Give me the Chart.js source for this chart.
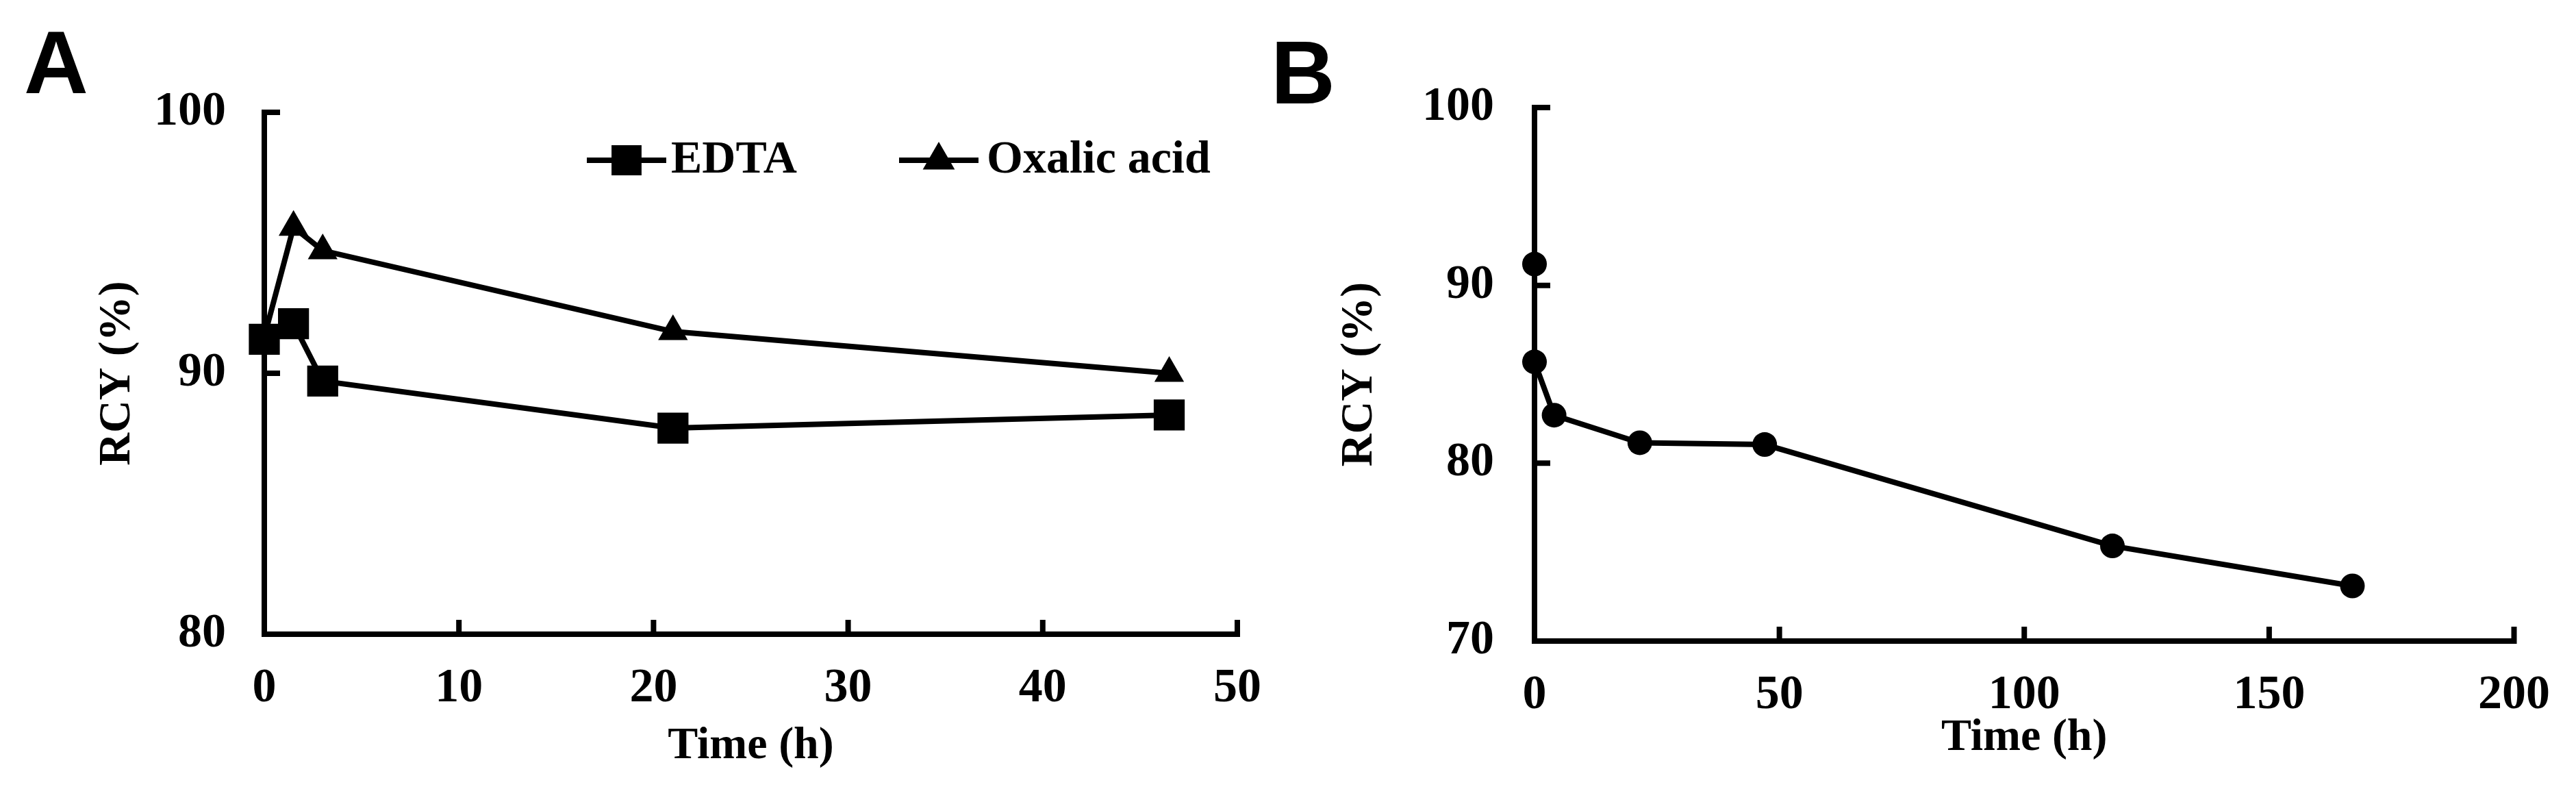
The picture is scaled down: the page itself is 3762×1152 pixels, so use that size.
<!DOCTYPE html>
<html>
<head>
<meta charset="utf-8">
<title>RCY over time</title>
<script src="https://cdn.jsdelivr.net/npm/chart.js@4.4.1/dist/chart.umd.min.js"></script>
<style>
  html, body { margin: 0; padding: 0; background: #fff; }
  body { width: 3762px; height: 1152px; position: relative; overflow: hidden; }
  canvas { position: absolute; top: 0; }
  #chartA { left: 0; }
  #chartB { left: 1880px; }
  .panel {
    position: absolute;
    font-family: Arial, "Liberation Sans", sans-serif;
    font-weight: bold;
    font-size: 130px;
    line-height: 130px;
    color: #000;
  }
</style>
</head>
<body>
<div class="panel" style="left:35px; top:26px;">A</div>
<div class="panel" style="left:1856px; top:41px;">B</div>
<canvas id="chartA" width="1880" height="1152"></canvas>
<canvas id="chartB" width="1882" height="1152"></canvas>
<script>
// Panel A - RCY (%) over time with the two additives
const timeA = [0, 1.5, 3, 21, 46.5];
const edtaRcy = [91.3, 91.9, 89.7, 87.9, 88.4];
const oxalicRcy = [91.4, 95.6, 94.7, 91.6, 90.0];
const xTicksA = [0, 10, 20, 30, 40, 50];
const yTicksA = [80, 90, 100];

// Panel B - RCY (%) over a longer time span
const timeB = [0, 0, 4, 21.5, 47, 118, 167];
const rcyB = [91.2, 85.7, 82.7, 81.15, 81.05, 75.35, 73.1];
const xTicksB = [0, 50, 100, 150, 200];
const yTicksB = [70, 80, 90, 100];

const serif = '"Times New Roman", "Liberation Serif", serif';
const tickFont = { family: serif, size: 70, weight: 'bold' };
const titleFont = { family: serif, size: 66, weight: 'bold' };

const toPoints = (xs, ys) => xs.map((x, i) => ({ x: x, y: ys[i] }));
const fixedTicks = list => scale => { scale.ticks = list.map(v => ({ value: v })); };

// short tick marks pointing into the plot, placed by the scales
const innerTicks = {
    id: 'innerTicks',
    beforeDatasetsDraw(chart) {
        const { ctx, chartArea: a, scales: { x, y } } = chart;
        ctx.save();
        ctx.strokeStyle = '#000';
        ctx.lineWidth = 8;
        ctx.beginPath();
        y.ticks.forEach(t => {
            const py = y.getPixelForValue(t.value);
            ctx.moveTo(a.left - 4, py);
            ctx.lineTo(a.left + 23, py);
        });
        x.ticks.forEach(t => {
            const px = x.getPixelForValue(t.value);
            ctx.moveTo(px, a.bottom + 4);
            ctx.lineTo(px, a.bottom - 21);
        });
        ctx.stroke();
        ctx.restore();
    }
};

// Excel-like legend inside the plot: line, marker on it, label after it
const lineLegend = {
    id: 'lineLegend',
    afterDatasetsDraw(chart, args, opts) {
        if (!opts.items) return;
        const { ctx, chartArea: a } = chart;
        const y = a.top + opts.dy;
        ctx.save();
        ctx.strokeStyle = '#000';
        ctx.fillStyle = '#000';
        ctx.font = 'bold ' + opts.fontSize + 'px ' + serif;
        ctx.textBaseline = 'middle';
        ctx.textAlign = 'left';
        opts.items.forEach((it, i) => {
            const ds = chart.data.datasets[i];
            const x0 = a.left + it.dx;
            ctx.lineWidth = 8;
            ctx.beginPath();
            ctx.moveTo(x0, y);
            ctx.lineTo(x0 + opts.lineLen, y);
            ctx.stroke();
            Chart.helpers.drawPoint(ctx, { pointStyle: ds.pointStyle, radius: it.radius, rotation: 0, borderWidth: 0 }, x0 + opts.lineLen / 2, y);
            ctx.fillText(ds.label, x0 + opts.lineLen + it.gap, y);
        });
        ctx.restore();
    }
};

function axes(xTicks, yTicks, o) {
    return {
        x: {
            type: 'linear',
            min: xTicks[0],
            max: xTicks[xTicks.length - 1],
            afterBuildTicks: fixedTicks(xTicks),
            afterFit: s => { s.height = o.xHeight; },
            grid: { display: false, drawTicks: false },
            border: { display: true, color: '#000', width: 8 },
            ticks: { font: tickFont, color: '#000', padding: o.xPad, maxRotation: 0, autoSkip: false },
            title: { display: true, text: 'Time (h)', font: titleFont, color: '#000', padding: { top: 0, bottom: o.xTitle } }
        },
        y: {
            type: 'linear',
            min: yTicks[0],
            max: yTicks[yTicks.length - 1],
            afterBuildTicks: fixedTicks(yTicks),
            afterFit: s => { s.width = o.yWidth; },
            grid: { display: false, drawTicks: false },
            border: { display: true, color: '#000', width: 8 },
            ticks: { font: tickFont, color: '#000', padding: o.yPad },
            title: { display: true, text: 'RCY (%)', font: titleFont, color: '#000', padding: { top: o.yTitle, bottom: 0 } }
        }
    };
}

const lineStyle = {
    borderColor: '#000',
    backgroundColor: '#000',
    borderWidth: 8,
    pointBackgroundColor: '#000',
    pointBorderWidth: 0,
    tension: 0,
    clip: false
};

new Chart(document.getElementById('chartA'), {
    type: 'line',
    data: {
        datasets: [
            Object.assign({ label: 'EDTA', data: toPoints(timeA, edtaRcy), pointStyle: 'rect', pointRadius: 32 }, lineStyle),
            Object.assign({ label: 'Oxalic acid', data: toPoints(timeA, oxalicRcy), pointStyle: 'triangle', pointRadius: 25 }, lineStyle)
        ]
    },
    options: {
        responsive: false,
        animation: false,
        devicePixelRatio: 1,
        layout: { padding: { left: 0, top: 164, right: 57, bottom: 0 } },
        scales: axes(xTicksA, yTicksA, { xHeight: 226, xPad: 38, xTitle: 22, yWidth: 386, yPad: 56, yTitle: 132 }),
        plugins: {
            tooltip: { enabled: false },
            legend: { display: false },
            lineLegend: {
                dy: 70,
                fontSize: 68,
                lineLen: 116,
                items: [
                    { dx: 471, radius: 31, gap: 7 },
                    { dx: 927, radius: 27, gap: 12 }
                ]
            }
        }
    },
    plugins: [innerTicks, lineLegend]
});

new Chart(document.getElementById('chartB'), {
    type: 'line',
    data: {
        datasets: [
            Object.assign({ label: 'RCY', data: toPoints(timeB, rcyB), pointStyle: 'circle', pointRadius: 18 }, lineStyle)
        ]
    },
    options: {
        responsive: false,
        animation: false,
        devicePixelRatio: 1,
        layout: { padding: { left: 0, top: 157, right: 76, bottom: 0 } },
        scales: axes(xTicksB, yTicksB, { xHeight: 216, xPad: 38, xTitle: 34, yWidth: 361, yPad: 59, yTitle: 66 }),
        plugins: {
            tooltip: { enabled: false },
            legend: { display: false }
        }
    },
    plugins: [innerTicks]
});
</script>
</body>
</html>
